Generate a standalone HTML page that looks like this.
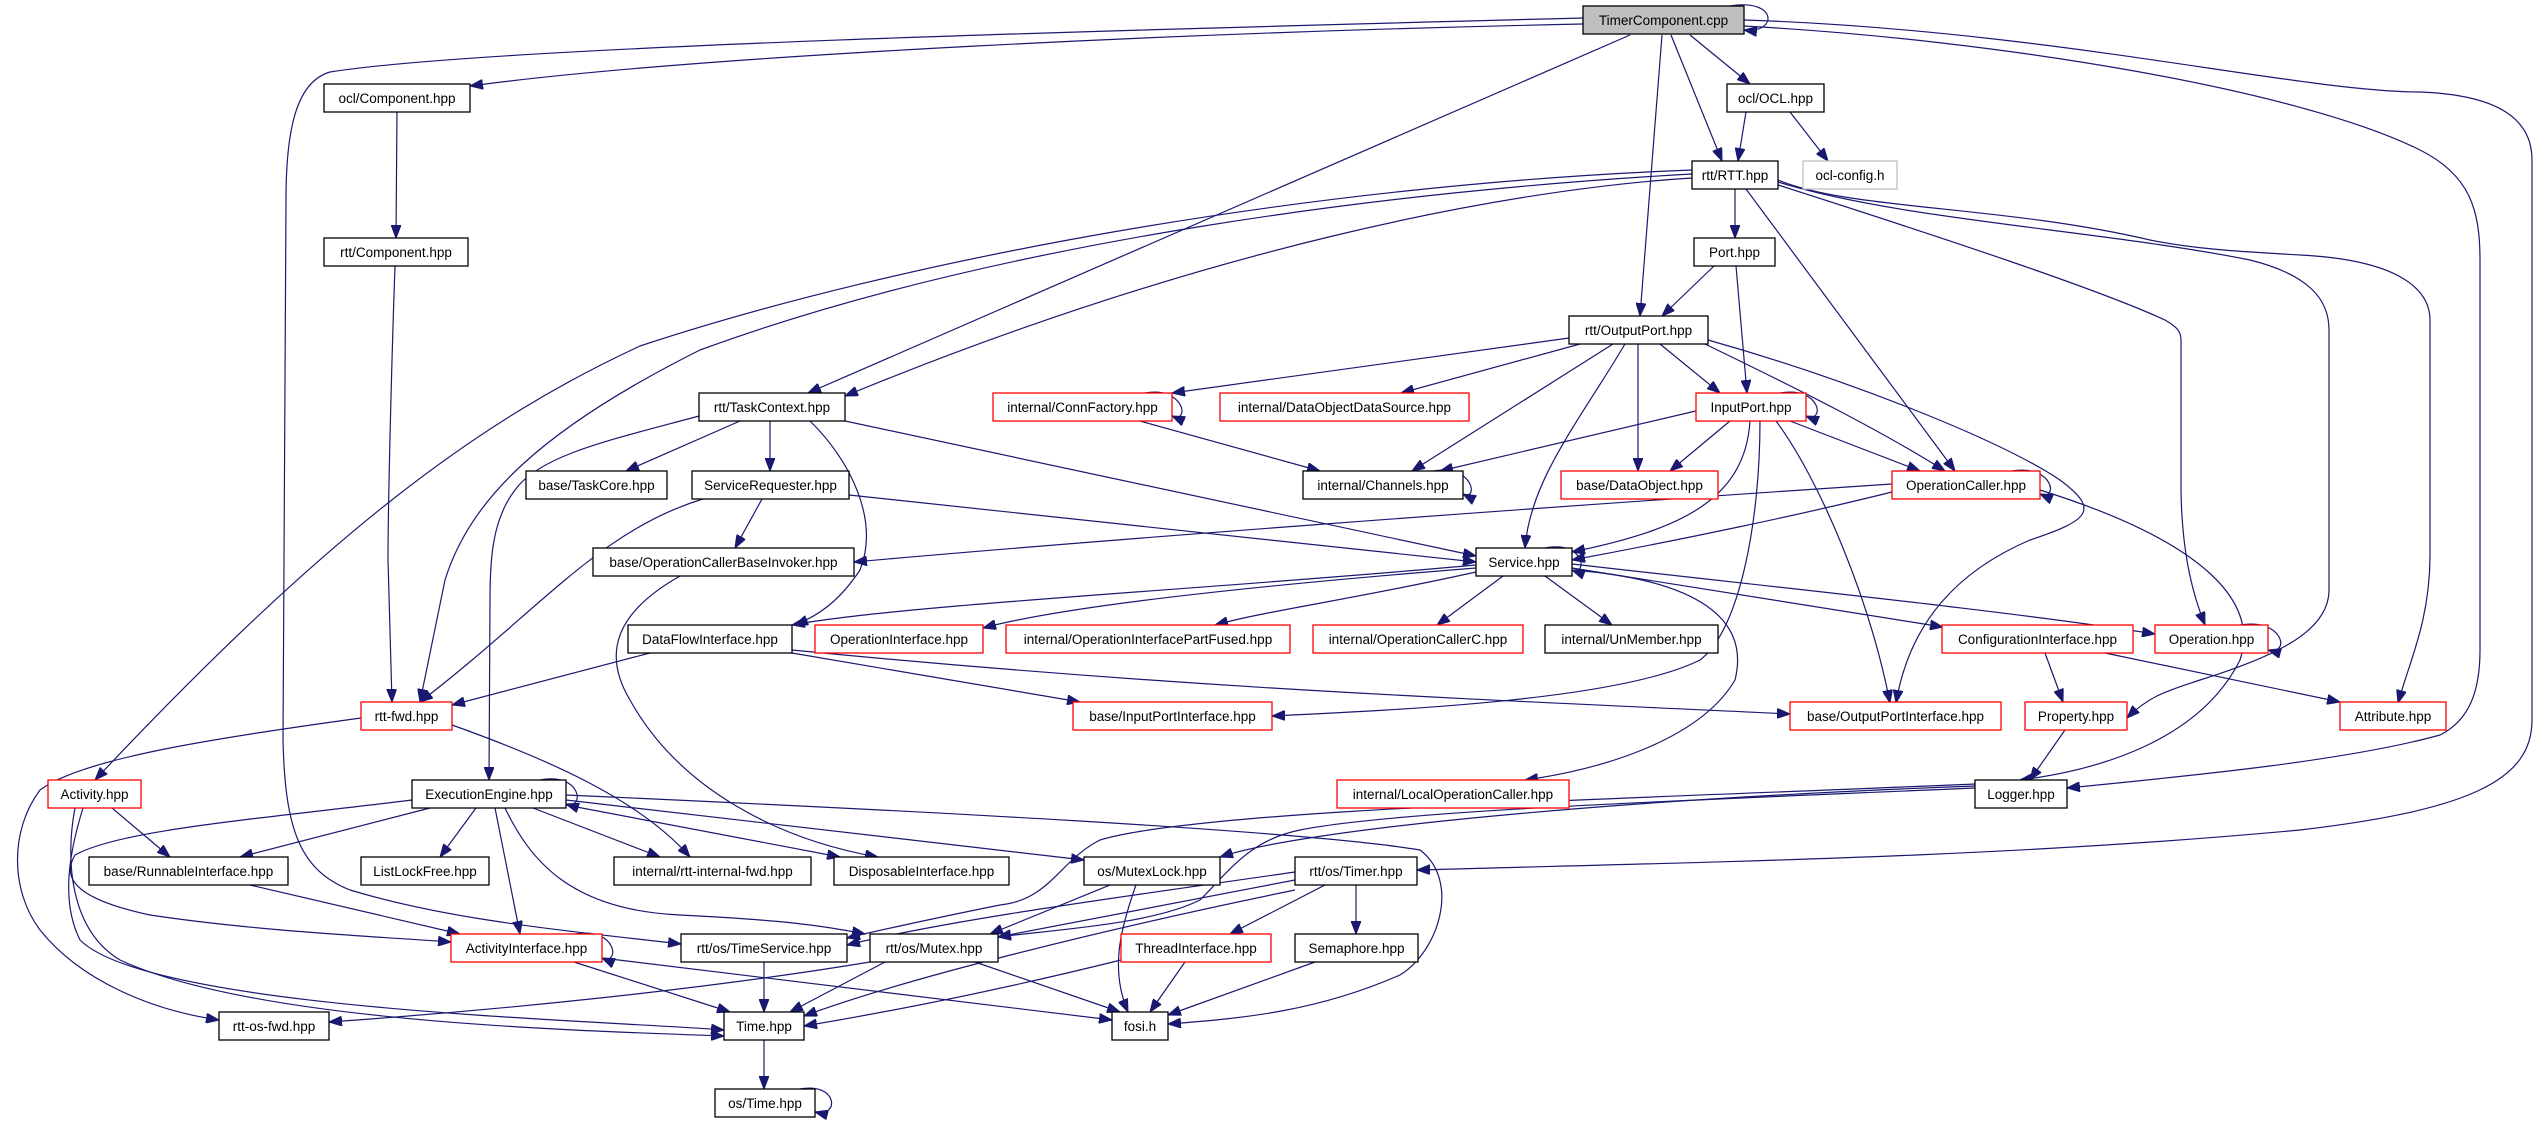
<!DOCTYPE html>
<html><head><meta charset="utf-8"><style>
html,body{margin:0;padding:0;background:#fff;}
svg{display:block;}
text{font-family:"Liberation Sans",sans-serif;font-size:13.5px;fill:#000;}
.n{fill:#fff;stroke:#000;stroke-width:1.3;}
.r{fill:#fff;stroke:#ff0000;stroke-width:1.3;}
.g{fill:#fff;stroke:#bfbfbf;stroke-width:1.3;}
.e path{fill:none;stroke:#191970;stroke-width:1.2;marker-end:url(#a);}
</style></head><body>
<svg width="2537" height="1123" viewBox="0 0 2537 1123" xmlns="http://www.w3.org/2000/svg">
<defs><marker id="a" markerUnits="userSpaceOnUse" markerWidth="14" markerHeight="10" refX="13" refY="5" orient="auto"><path d="M0,0 L13,5 L0,10 z" fill="#191970" stroke="#191970"/></marker></defs>
<g class="e">
<!-- TimerComponent -->
<path d="M1583,24 C1200,32 700,55 470,86"/>
<path d="M1583,18 C1200,28 500,45 330,72 C296,82 286,130 286,200 L283,740 C285,830 300,870 350,890 C450,920 560,930 681,944"/>
<path d="M1630,35 L808,393"/>
<path d="M1662,35 L1640,316"/>
<path d="M1671,35 L1722,161"/>
<path d="M1690,35 L1750,84"/>
<path d="M1730,6 C1778,-2 1778,34 1744,30"/>
<path d="M1744,26 C2000,40 2300,90 2420,150 C2470,175 2480,210 2480,260 L2480,650 C2480,690 2470,720 2440,735 C2350,760 2200,775 2067,788"/>
<path d="M1744,20 C2050,30 2300,92 2420,92 C2500,95 2532,120 2532,160 L2532,720 C2532,780 2470,810 2300,830 C2000,858 1700,862 1417,870"/>
<!-- components -->
<path d="M397,112 L396,238"/>
<path d="M395,266 C392,350 388,500 388,560 L392,702"/>
<path d="M1746,112 L1738,161"/>
<path d="M1790,112 L1828,161"/>
<!-- RTT -->
<path d="M1735,189 L1735,238"/>
<path d="M1692,178 C1500,190 1200,250 845,396"/>
<path d="M1692,174 C1400,190 1000,240 700,350 C540,430 470,500 445,580 L420,702"/>
<path d="M1692,170 C1300,185 900,260 640,346 C480,420 330,530 95,780"/>
<path d="M1746,189 L1955,471"/>
<path d="M1778,185 C1950,240 2100,290 2165,320 C2175,326 2181,330 2181,340 L2181,490 C2182,560 2195,600 2205,625"/>
<path d="M1778,182 C1900,220 2100,230 2250,260 C2310,275 2329,300 2329,330 L2329,590 C2329,630 2280,655 2200,680 C2170,690 2150,695 2127,718"/>
<path d="M1778,180 C1850,210 2000,205 2150,240 C2200,250 2250,252 2300,255 C2400,260 2430,290 2430,320 L2430,555 C2430,620 2410,660 2398,703"/>
<path d="M1714,266 L1662,316"/>
<path d="M1736,266 L1747,393"/>
<!-- OutputPort -->
<path d="M1569,338 L1172,393"/>
<path d="M1580,344 L1401,393"/>
<path d="M1613,344 L1412,471"/>
<path d="M1625,344 C1580,420 1530,480 1525,548"/>
<path d="M1638,344 L1638,471"/>
<path d="M1660,344 L1720,393"/>
<path d="M1705,344 C1800,390 1880,430 1945,471"/>
<path d="M1708,340 C1850,380 2000,440 2060,480 C2100,510 2090,520 2030,540 C1960,570 1910,620 1896,703"/>
<path d="M1145,393 C1185,386 1190,424 1172,416"/>
<path d="M1140,421 L1320,471"/>
<path d="M1433,471 C1475,464 1478,502 1463,494"/>
<!-- InputPort -->
<path d="M1780,393 C1822,386 1825,424 1806,416"/>
<path d="M1700,410 L1440,471"/>
<path d="M1730,421 L1670,471"/>
<path d="M1790,421 L1920,471"/>
<path d="M1750,421 C1745,500 1680,530 1572,552"/>
<path d="M1776,421 C1820,480 1870,600 1890,703"/>
<path d="M1760,421 C1760,520 1740,630 1700,660 C1620,700 1400,710 1272,716"/>
<!-- OperationCaller -->
<path d="M2012,471 C2055,464 2058,502 2040,494"/>
<path d="M1892,484 C1500,510 1100,540 854,562"/>
<path d="M1892,492 C1800,515 1680,540 1572,560"/>
<path d="M2040,490 C2200,540 2260,600 2240,660 C2200,740 2100,770 2020,780"/>
<!-- TaskContext -->
<path d="M740,421 L626,471"/>
<path d="M770,421 L770,471"/>
<path d="M845,421 L1476,556"/>
<path d="M810,421 C850,460 880,520 860,570 C840,600 820,615 795,625"/>
<path d="M699,416 C610,440 540,455 515,490 C492,520 490,560 490,600 L489,780"/>
<!-- ServiceRequester -->
<path d="M762,499 L735,548"/>
<path d="M849,495 L1476,562"/>
<path d="M703,499 C600,530 540,610 420,702"/>
<path d="M680,576 C620,610 600,650 630,700 C680,790 780,840 878,857"/>
<!-- Service -->
<path d="M1545,548 C1585,540 1588,576 1572,570"/>
<path d="M1476,565 C1200,590 900,605 792,625"/>
<path d="M1476,568 C1200,590 1050,610 983,628"/>
<path d="M1476,572 C1350,600 1270,610 1215,625"/>
<path d="M1503,576 L1437,625"/>
<path d="M1545,576 L1612,625"/>
<path d="M1572,568 L1943,627"/>
<path d="M1572,564 C1800,590 2000,610 2155,634"/>
<path d="M1572,570 C1700,580 1750,620 1735,680 C1700,740 1600,770 1525,780"/>
<!-- DataFlowInterface -->
<path d="M650,653 L452,705"/>
<path d="M792,653 L1080,702"/>
<path d="M792,650 C1200,690 1500,700 1790,714"/>
<path d="M2045,653 L2063,702"/>
<path d="M2105,653 L2340,702"/>
<path d="M2240,625 C2285,618 2290,656 2268,650"/>
<path d="M2065,730 L2030,780"/>
<!-- Logger -->
<path d="M1975,786 C1600,800 1300,830 1220,857"/>
<path d="M1975,788 C1700,800 1400,810 1300,830 C1250,840 1230,870 1200,900 C1150,925 1050,930 998,937"/>
<path d="M1975,784 C1600,800 1200,810 1100,840 C1060,860 1050,900 1000,905 C950,915 880,930 847,938"/>
<!-- rtt-fwd -->
<path d="M361,718 C200,740 80,760 40,790 C10,830 10,890 40,930 C80,980 150,1010 219,1020"/>
<path d="M452,725 C550,760 640,800 690,857"/>
<!-- Activity -->
<path d="M112,808 L170,857"/>
<path d="M83,808 C70,850 60,900 80,940 C150,1010 600,1020 724,1030"/>
<path d="M75,808 C65,860 70,930 120,960 C250,1020 550,1030 724,1036"/>
<!-- ExecutionEngine -->
<path d="M540,780 C582,772 585,810 566,804"/>
<path d="M430,808 L240,857"/>
<path d="M476,808 L440,857"/>
<path d="M533,808 L660,857"/>
<path d="M566,805 L840,857"/>
<path d="M566,800 L1084,860"/>
<path d="M566,795 C900,810 1300,830 1420,850 C1460,880 1440,950 1400,975 C1320,1010 1250,1018 1168,1024"/>
<path d="M495,808 L520,934"/>
<path d="M505,808 C530,860 570,910 680,915 C780,920 820,925 865,934"/>
<path d="M412,800 C250,820 120,830 75,855 C60,880 80,900 150,915 C250,930 350,935 451,942"/>
<!-- bottom -->
<path d="M250,885 L460,934"/>
<path d="M575,934 C618,927 620,966 602,958"/>
<path d="M574,962 L730,1012"/>
<path d="M602,958 L1112,1020"/>
<path d="M764,962 L764,1012"/>
<path d="M885,962 L790,1012"/>
<path d="M870,962 C700,990 500,1010 329,1022"/>
<path d="M975,962 L1120,1012"/>
<path d="M1110,885 L990,934"/>
<path d="M1136,885 C1120,930 1110,970 1128,1012"/>
<path d="M1295,880 L998,937"/>
<path d="M1325,885 L1230,934"/>
<path d="M1356,885 L1356,934"/>
<path d="M1295,890 C1100,930 900,980 804,1016"/>
<path d="M1295,872 C1100,900 950,920 847,945"/>
<path d="M1185,962 L1150,1012"/>
<path d="M1121,960 C1000,990 900,1010 804,1026"/>
<path d="M1315,962 L1168,1015"/>
<path d="M764,1040 L764,1089"/>
<path d="M800,1089 C838,1082 840,1118 815,1112"/>
</g>
<g>
<rect x="1583" y="6" width="161" height="28" fill="#bfbfbf" stroke="#000" stroke-width="1.3"/><text x="1663.5" y="25" text-anchor="middle">TimerComponent.cpp</text>
<rect class="n" x="324" y="84" width="146" height="28"/><text x="397" y="103" text-anchor="middle">ocl/Component.hpp</text>
<rect class="n" x="324" y="238" width="144" height="28"/><text x="396" y="257" text-anchor="middle">rtt/Component.hpp</text>
<rect class="n" x="1727" y="84" width="97" height="28"/><text x="1775.5" y="103" text-anchor="middle">ocl/OCL.hpp</text>
<rect class="n" x="1692" y="161" width="86" height="28"/><text x="1735" y="180" text-anchor="middle">rtt/RTT.hpp</text>
<rect class="g" x="1803" y="161" width="94" height="28"/><text x="1850" y="180" text-anchor="middle">ocl-config.h</text>
<rect class="n" x="1694" y="238" width="81" height="28"/><text x="1734.5" y="257" text-anchor="middle">Port.hpp</text>
<rect class="n" x="1569" y="316" width="139" height="28"/><text x="1638.5" y="335" text-anchor="middle">rtt/OutputPort.hpp</text>
<rect class="n" x="699" y="393" width="146" height="28"/><text x="772" y="412" text-anchor="middle">rtt/TaskContext.hpp</text>
<rect class="r" x="993" y="393" width="179" height="28"/><text x="1082.5" y="412" text-anchor="middle">internal/ConnFactory.hpp</text>
<rect class="r" x="1220" y="393" width="249" height="28"/><text x="1344.5" y="412" text-anchor="middle">internal/DataObjectDataSource.hpp</text>
<rect class="r" x="1696" y="393" width="110" height="28"/><text x="1751" y="412" text-anchor="middle">InputPort.hpp</text>
<rect class="n" x="526" y="471" width="141" height="28"/><text x="596.5" y="490" text-anchor="middle">base/TaskCore.hpp</text>
<rect class="n" x="692" y="471" width="157" height="28"/><text x="770.5" y="490" text-anchor="middle">ServiceRequester.hpp</text>
<rect class="n" x="1303" y="471" width="160" height="28"/><text x="1383" y="490" text-anchor="middle">internal/Channels.hpp</text>
<rect class="r" x="1561" y="471" width="157" height="28"/><text x="1639.5" y="490" text-anchor="middle">base/DataObject.hpp</text>
<rect class="r" x="1892" y="471" width="148" height="28"/><text x="1966" y="490" text-anchor="middle">OperationCaller.hpp</text>
<rect class="n" x="593" y="548" width="261" height="28"/><text x="723.5" y="567" text-anchor="middle">base/OperationCallerBaseInvoker.hpp</text>
<rect class="n" x="1476" y="548" width="96" height="28"/><text x="1524" y="567" text-anchor="middle">Service.hpp</text>
<rect class="n" x="628" y="625" width="164" height="28"/><text x="710" y="644" text-anchor="middle">DataFlowInterface.hpp</text>
<rect class="r" x="815" y="625" width="168" height="28"/><text x="899" y="644" text-anchor="middle">OperationInterface.hpp</text>
<rect class="r" x="1006" y="625" width="284" height="28"/><text x="1148" y="644" text-anchor="middle">internal/OperationInterfacePartFused.hpp</text>
<rect class="r" x="1313" y="625" width="210" height="28"/><text x="1418" y="644" text-anchor="middle">internal/OperationCallerC.hpp</text>
<rect class="n" x="1545" y="625" width="173" height="28"/><text x="1631.5" y="644" text-anchor="middle">internal/UnMember.hpp</text>
<rect class="r" x="1942" y="625" width="191" height="28"/><text x="2037.5" y="644" text-anchor="middle">ConfigurationInterface.hpp</text>
<rect class="r" x="2155" y="625" width="113" height="28"/><text x="2211.5" y="644" text-anchor="middle">Operation.hpp</text>
<rect class="r" x="361" y="702" width="91" height="28"/><text x="406.5" y="721" text-anchor="middle">rtt-fwd.hpp</text>
<rect class="r" x="1073" y="702" width="199" height="28"/><text x="1172.5" y="721" text-anchor="middle">base/InputPortInterface.hpp</text>
<rect class="r" x="1790" y="702" width="211" height="28"/><text x="1895.5" y="721" text-anchor="middle">base/OutputPortInterface.hpp</text>
<rect class="r" x="2025" y="702" width="102" height="28"/><text x="2076" y="721" text-anchor="middle">Property.hpp</text>
<rect class="r" x="2340" y="702" width="106" height="28"/><text x="2393" y="721" text-anchor="middle">Attribute.hpp</text>
<rect class="r" x="48" y="780" width="93" height="28"/><text x="94.5" y="799" text-anchor="middle">Activity.hpp</text>
<rect class="n" x="412" y="780" width="154" height="28"/><text x="489" y="799" text-anchor="middle">ExecutionEngine.hpp</text>
<rect class="r" x="1337" y="780" width="232" height="28"/><text x="1453" y="799" text-anchor="middle">internal/LocalOperationCaller.hpp</text>
<rect class="n" x="1975" y="780" width="92" height="28"/><text x="2021" y="799" text-anchor="middle">Logger.hpp</text>
<rect class="n" x="89" y="857" width="199" height="28"/><text x="188.5" y="876" text-anchor="middle">base/RunnableInterface.hpp</text>
<rect class="n" x="361" y="857" width="128" height="28"/><text x="425" y="876" text-anchor="middle">ListLockFree.hpp</text>
<rect class="n" x="614" y="857" width="197" height="28"/><text x="712.5" y="876" text-anchor="middle">internal/rtt-internal-fwd.hpp</text>
<rect class="n" x="834" y="857" width="175" height="28"/><text x="921.5" y="876" text-anchor="middle">DisposableInterface.hpp</text>
<rect class="n" x="1084" y="857" width="136" height="28"/><text x="1152" y="876" text-anchor="middle">os/MutexLock.hpp</text>
<rect class="n" x="1295" y="857" width="122" height="28"/><text x="1356" y="876" text-anchor="middle">rtt/os/Timer.hpp</text>
<rect class="r" x="451" y="934" width="151" height="28"/><text x="526.5" y="953" text-anchor="middle">ActivityInterface.hpp</text>
<rect class="n" x="681" y="934" width="166" height="28"/><text x="764" y="953" text-anchor="middle">rtt/os/TimeService.hpp</text>
<rect class="n" x="870" y="934" width="128" height="28"/><text x="934" y="953" text-anchor="middle">rtt/os/Mutex.hpp</text>
<rect class="r" x="1121" y="934" width="150" height="28"/><text x="1196" y="953" text-anchor="middle">ThreadInterface.hpp</text>
<rect class="n" x="1295" y="934" width="123" height="28"/><text x="1356.5" y="953" text-anchor="middle">Semaphore.hpp</text>
<rect class="n" x="219" y="1012" width="110" height="28"/><text x="274" y="1031" text-anchor="middle">rtt-os-fwd.hpp</text>
<rect class="n" x="724" y="1012" width="80" height="28"/><text x="764" y="1031" text-anchor="middle">Time.hpp</text>
<rect class="n" x="1112" y="1012" width="56" height="28"/><text x="1140" y="1031" text-anchor="middle">fosi.h</text>
<rect class="n" x="715" y="1089" width="100" height="28"/><text x="765" y="1108" text-anchor="middle">os/Time.hpp</text>
</g>
</svg>
</body></html>
